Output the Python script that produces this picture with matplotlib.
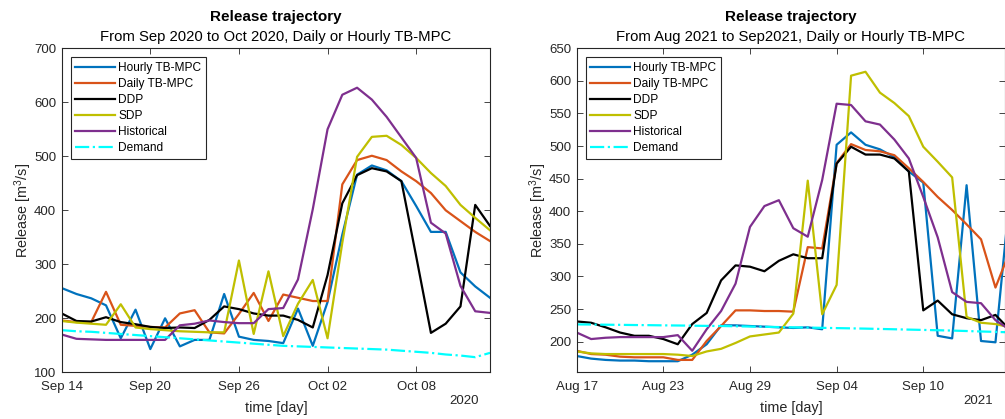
import numpy as np
import pandas as pd
import matplotlib
matplotlib.use('Agg')
import matplotlib.pyplot as plt

plt.rcParams['font.family'] = ['Liberation Sans', 'DejaVu Sans']
plt.rcParams['mathtext.fontset'] = 'custom'
plt.rcParams['mathtext.rm'] = 'Liberation Sans'
plt.rcParams['mathtext.it'] = 'Liberation Sans:italic'
plt.rcParams['mathtext.bf'] = 'Liberation Sans:bold'
plt.rcParams['mathtext.default'] = 'regular'

# ---------------- data ----------------
series_labels = ['Hourly TB-MPC', 'Daily TB-MPC', 'DDP', 'SDP', 'Historical', 'Demand']

# Left panel: Sep 14 2020 .. Oct 13 2020 (daily)
left_start = '2020-09-14'
left_hourly = [256, 245, 237, 224, 163, 216, 143, 200, 148, 160, 160, 245, 166, 160,
               158, 154, 218, 149, 230, 355, 466, 483, 474, 454, 408, 360, 360, 285, 259, 238]
left_daily = [196, 193, 193, 249, 188, 186, 184, 183, 209, 215, 174, 172, 208, 247,
              195, 244, 238, 232, 232, 448, 493, 501, 493, 472, 454, 432, 400, 380, 360, 343]
left_ddp = [209, 195, 194, 202, 193, 189, 184, 182, 183, 182, 197, 222, 217, 209,
            205, 205, 197, 183, 280, 413, 465, 478, 472, 454, 315, 173, 190, 222, 410, 371]
left_sdp = [195, 192, 190, 188, 226, 183, 180, 178, 176, 175, 174, 174, 307, 171,
            287, 167, 227, 271, 163, 340, 499, 536, 538, 521, 497, 469, 445, 410, 386, 363]
left_hist = [170, 162, 161, 160, 160, 160, 160, 160, 187, 190, 196, 193, 191, 191,
             217, 219, 272, 402, 550, 614, 627, 605, 573, 535, 497, 377, 357, 260, 213, 210]
left_demand = [178, 176, 175, 173, 171, 169, 167, 165, 163, 161, 159, 157, 155, 153,
               151, 149, 148, 147, 146, 145, 144, 143, 142, 140, 138, 136, 133, 131, 128, 136]
left_ticklabels = ['Sep 14', 'Sep 20', 'Sep 26', 'Oct 02', 'Oct 08']

# Right panel: Aug 17 2021 .. Sep 16 2021 (daily)
right_start = '2021-08-17'
right_hourly = [178, 174, 172, 171, 171, 170, 170, 170, 180, 196, 225, 225, 224, 223,
                222, 221, 222, 219, 502, 521, 502, 495, 483, 461, 444, 209, 205, 440, 201, 199, 425]
right_daily = [186, 181, 180, 177, 176, 176, 176, 172, 172, 201, 224, 248, 248, 247,
               247, 246, 345, 343, 474, 503, 494, 492, 486, 466, 445, 422, 402, 380, 357, 283, 339]
right_ddp = [231, 229, 222, 214, 209, 209, 204, 196, 227, 244, 294, 317, 315, 308,
             324, 334, 328, 328, 473, 499, 487, 487, 481, 461, 248, 263, 242, 236, 233, 241, 218]
right_sdp = [185, 182, 181, 181, 181, 181, 181, 180, 178, 185, 189, 198, 208, 211,
             214, 243, 447, 242, 287, 608, 614, 582, 566, 546, 499, 476, 452, 238, 229, 227, 222]
right_hist = [214, 204, 206, 207, 207, 207, 207, 210, 186, 219, 247, 289, 376, 408,
              417, 374, 361, 448, 565, 563, 538, 533, 510, 481, 422, 360, 276, 261, 259, 233, 218]
right_demand = [226.5, 226.3, 226.0, 225.8, 225.5, 225.3, 225.0, 224.8, 224.5, 224.2, 224.0,
                223.6, 223.2, 222.8, 222.4, 222.0, 221.6, 221.2, 220.8, 220.4, 220.0, 219.5,
                219.0, 218.5, 218.0, 217.5, 217.0, 216.3, 215.6, 215.0, 214.3]
right_ticklabels = ['Aug 17', 'Aug 23', 'Aug 29', 'Sep 04', 'Sep 10']

# ---------------- style ----------------
colors = ['#0072BD', '#D95319', '#000000', '#BFBF00', '#7E2F8E', '#00FFFF']
styles = ['-', '-', '-', '-', '-', '-.']
axcol = '#262626'

fig = plt.figure(figsize=(10.05, 4.19), dpi=100)
W, H = 1005.0, 419.0


def make_axes(x0, x1, y_top, y_bot):
    return fig.add_axes([x0 / W, (H - y_bot) / H, (x1 - x0) / W, (y_bot - y_top) / H])


def draw_panel(ax, start, data, ticklabels, xend_days, ylim, yticks, subtitle, year):
    dates = pd.date_range(start, periods=len(data[0]), freq='D')
    for vals, c, ls, lab in zip(data, colors, styles, series_labels):
        ax.plot(dates, vals, color=c, linestyle=ls, linewidth=1.6, label=lab)
    t0 = pd.Timestamp(start)
    ax.set_xlim(t0, t0 + pd.Timedelta(days=xend_days))
    ax.set_ylim(*ylim)
    ticks = pd.date_range(start, periods=len(ticklabels), freq='6D')
    ax.set_xticks(ticks)
    ax.set_xticklabels(ticklabels)
    ax.set_yticks(yticks)
    ax.tick_params(direction='in', length=4, width=0.6, top=True, right=True,
                   colors=axcol, labelsize=9.5)
    ax.tick_params(axis='x', pad=6)
    ax.tick_params(axis='y', pad=4)
    for s in ax.spines.values():
        s.set_color(axcol)
        s.set_linewidth(0.8)
    ax.set_xlabel('time [day]', fontsize=10.4, color=axcol)
    ax.xaxis.set_label_coords(0.5, -0.090)
    ax.set_ylabel('Release [m$^3$/s]', fontsize=10.4, color=axcol)
    ax.yaxis.set_label_coords(-0.064, 0.5)
    ax.text(0.5, 1.085, 'Release trajectory', transform=ax.transAxes, ha='center',
            va='baseline', fontsize=11, fontweight='bold', color='black')
    ax.text(0.5, 1.023, subtitle, transform=ax.transAxes, ha='center',
            va='baseline', fontsize=10.7, color='black')
    ax.text(year[1], -0.0886, year[0], transform=ax.transAxes, ha='right',
            va='center', fontsize=9.5, color=axcol)
    leg = ax.legend(loc='upper left', bbox_to_anchor=(0.021, 0.972), borderaxespad=0,
                    fontsize=8.6, handlelength=3.3, handletextpad=0.3, labelspacing=0.33,
                    borderpad=0.4, fancybox=False, framealpha=1, edgecolor=axcol)
    leg.get_frame().set_linewidth(0.8)


ax1 = make_axes(61.7, 490.0, 48.3, 372.3)
draw_panel(ax1, left_start,
           [left_hourly, left_daily, left_ddp, left_sdp, left_hist, left_demand],
           left_ticklabels, 29, (100, 700), np.arange(100, 701, 100),
           'From Sep 2020 to Oct 2020, Daily or Hourly TB-MPC', ('2020', 0.975))

ax2 = make_axes(576.7, 1005.0, 48.3, 372.3)
draw_panel(ax2, right_start,
           [right_hourly, right_daily, right_ddp, right_sdp, right_hist, right_demand],
           right_ticklabels, 29.66, (153, 650), np.arange(200, 651, 50),
           'From Aug 2021 to Sep2021, Daily or Hourly TB-MPC', ('2021', 0.972))

fig.savefig('out.png', dpi=100)
